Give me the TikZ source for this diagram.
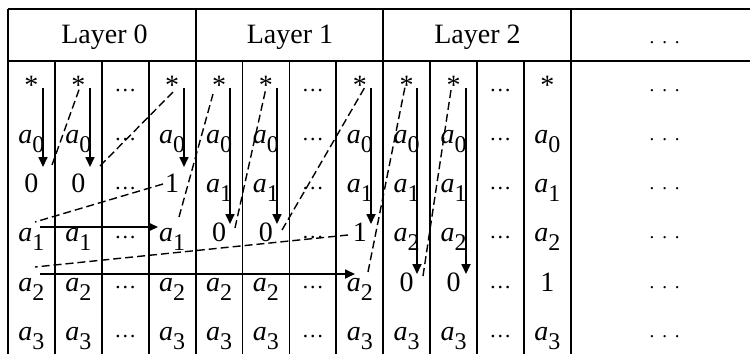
\documentclass[tikz,border=0pt]{standalone}
\usepackage{fontspec}
\setmainfont{Liberation Serif}
\usetikzlibrary{arrows.meta}
\newcommand\av[1]{\textit{a}\raisebox{-9pt}{\fontsize{24}{24}\selectfont #1}}
\newcommand\celldots{\raisebox{3pt}{\fontsize{22}{22}\selectfont …}}
\newcommand\rdots{\fontsize{19}{19}\selectfont\makebox[30pt]{.\hfill.\hfill.}}
\newcommand\colcells[2]{%
  \foreach \ti [count=\ri] in {#2}
    \node[txt] (c#1-\ri) at ({31.45+46.9*(#1-1)},{94+49.3*(\ri-1)}) {\ti};}
\begin{document}
\begin{tikzpicture}[x=1pt,y=-1pt,
  grid/.style={line width=1.8pt},
  txt/.style={anchor=base,inner sep=0pt,font=\fontsize{28}{30}\selectfont},
  arr/.style={line width=1.7pt,-{Triangle[length=10pt,width=9pt]}},
  dsh/.style={line width=1.4pt,dash pattern=on 8pt off 4pt}]
\useasboundingbox (0,0) rectangle (750,354);
% grid
\draw[grid] (8,9) -- (750,9);
\draw[grid] (8,61) -- (750,61);
\draw[grid] (8,9) -- (8,354);
\foreach \x in {195.6,383.2,570.8} \draw[grid] (\x,9) -- (\x,354);
\foreach \k in {1,2,3,5,6,7,9,10,11} \draw[grid] ({8+46.9*\k},61) -- ({8+46.9*\k},354);
% headers
\node[txt] (h0) at (104.5,43) {Layer 0};
\node[txt] (h1) at (290,43) {Layer 1};
\node[txt] (h2) at (477.5,43) {Layer 2};
\node[anchor=base,inner sep=0pt] (h3) at (664.7,43) {\rdots};
% cells
\colcells{1}{*,\av0,0,\av1,\av2,\av3}
\colcells{2}{*,\av0,0,\av1,\av2,\av3}
\colcells{3}{\celldots,\celldots,\celldots,\celldots,\celldots,\celldots}
\colcells{4}{*,\av0,1,\av1,\av2,\av3}
\colcells{5}{*,\av0,\av1,0,\av2,\av3}
\colcells{6}{*,\av0,\av1,0,\av2,\av3}
\colcells{7}{\celldots,\celldots,\celldots,\celldots,\celldots,\celldots}
\colcells{8}{*,\av0,\av1,1,\av2,\av3}
\colcells{9}{*,\av0,\av1,\av2,0,\av3}
\colcells{10}{*,\av0,\av1,\av2,0,\av3}
\colcells{11}{\celldots,\celldots,\celldots,\celldots,\celldots,\celldots}
\colcells{12}{*,\av0,\av1,\av2,1,\av3}
\foreach \y [count=\i] in {90,139,188,237,287,336}
  \node[anchor=base,inner sep=0pt] (r\i) at (664.7,\y+1.5) {\rdots};
% arrow end points
\coordinate (s1) at (43,88);   \coordinate (t1) at (43,167);
\coordinate (s2) at (90,88);   \coordinate (t2) at (90,167);
\coordinate (s4) at (184,88);  \coordinate (t4) at (184,167);
\coordinate (s5) at (230,88);  \coordinate (t5) at (230,224);
\coordinate (s6) at (277,88);  \coordinate (t6) at (277,224);
\coordinate (s8) at (371,88);  \coordinate (t8) at (371,224);
\coordinate (s9) at (417,88);  \coordinate (t9) at (417,274);
\coordinate (s10) at (466,88); \coordinate (t10) at (466,274);
\coordinate (hs1) at (40,227); \coordinate (ht1) at (158,227);
\coordinate (hs2) at (40,274); \coordinate (ht2) at (355,274);
\foreach \a in {1,2,4,5,6,8,9,10} \draw[arr] (s\a) -- (t\a);
\draw[arr] (hs1) -- (ht1);
\draw[arr] (hs2) -- (ht2);
% dashed links
\coordinate (d1a) at (52,165);  \coordinate (d1b) at (80,87);
\coordinate (d2a) at (100,166); \coordinate (d2b) at (173,92);
\coordinate (d3a) at (163,184); \coordinate (d3b) at (35,222);
\coordinate (d4a) at (179,217); \coordinate (d4b) at (213,94);
\coordinate (d5a) at (348,235); \coordinate (d5b) at (35,267);
\coordinate (d6a) at (368,272); \coordinate (d6b) at (405,87);
\coordinate (d7a) at (235,228); \coordinate (d7b) at (266,88);
\coordinate (d8a) at (282,230); \coordinate (d8b) at (365,87);
\coordinate (d9a) at (423,276); \coordinate (d9b) at (451,90);
\foreach \d in {1,...,9} \draw[dsh] (d\d a) -- (d\d b);
\end{tikzpicture}
\end{document}
